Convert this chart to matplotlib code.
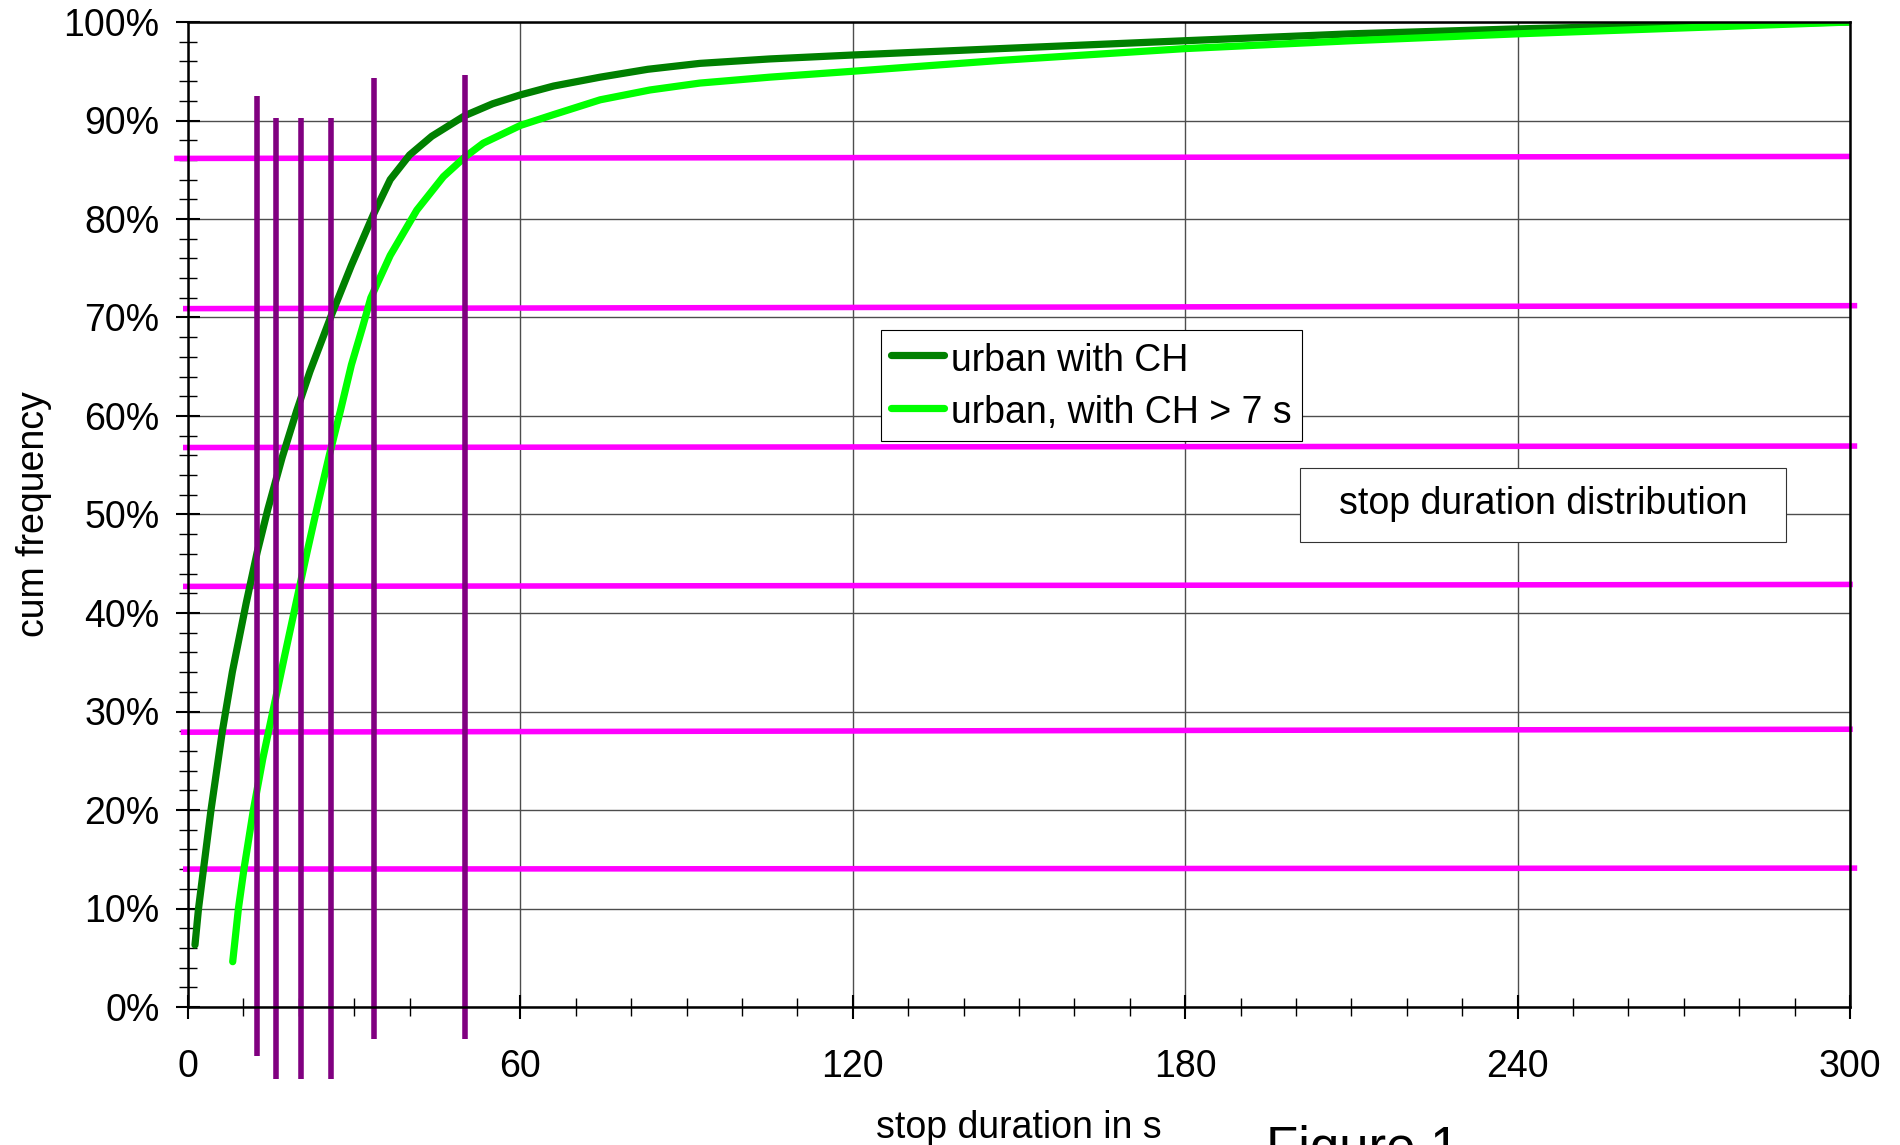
"""Cumulative stop duration distribution"""
import matplotlib
matplotlib.use("Agg")
import matplotlib.pyplot as plt
from matplotlib.ticker import MultipleLocator, PercentFormatter
from matplotlib.patches import Rectangle

# Daten: kumulierte Häufigkeit (in %) über Standdauer (in s)
urban_x = [1.26, 1.9, 2.8, 4.15, 6.2, 8.0, 10.5, 12.5, 14.4, 17.0, 19.6, 22.0, 26.0,
           29.5, 33.5, 36.5, 40.0, 44.0, 50.0, 55.0, 60.0, 66.0, 74.4, 83.0, 92.4,
           105.0, 120.0, 146.6, 180.0, 210.0, 240.0, 270.0, 300.0]
urban_y = [6.3, 10.0, 14.0, 20.0, 28.0, 34.0, 41.0, 46.2, 50.5, 55.8, 60.5, 64.5, 70.4,
           75.3, 80.5, 84.0, 86.5, 88.4, 90.5, 91.7, 92.6, 93.5, 94.4, 95.2, 95.8,
           96.25, 96.65, 97.3, 98.1, 98.8, 99.3, 99.7, 100.0]

urban7_x = [8.07, 9.1, 10.1, 11.8, 13.5, 15.5, 17.5, 19.5, 21.5, 23.5, 25.5, 27.5,
            29.5, 31.5, 33.0, 36.5, 41.3, 46.1, 50.0, 53.3, 60.0, 66.0, 74.4, 83.4,
            92.4, 105.0, 120.0, 146.6, 180.0, 210.0, 240.0, 270.0, 300.0]
urban7_y = [4.6, 10.0, 14.0, 20.0, 25.2, 30.5, 35.8, 41.0, 46.2, 51.2, 56.0, 60.5,
            65.2, 69.0, 72.0, 76.3, 80.9, 84.3, 86.3, 87.7, 89.5, 90.6, 92.1, 93.1,
            93.8, 94.4, 95.0, 96.1, 97.3, 98.1, 98.8, 99.4, 100.0]

# horizontale Hilfslinien (magenta): Start/Ende in s, Höhe links/rechts in %
hline_x0 = [-2.5, -0.9, -0.9, -0.9, -1.3, -0.9]
hline_x1 = [300.0, 301.3, 301.3, 300.5, 300.5, 301.3]
hline_y0 = [86.15, 70.9, 56.8, 42.7, 27.9, 14.0]
hline_y1 = [86.35, 71.2, 56.95, 42.9, 28.2, 14.1]

# vertikale Hilfslinien (lila): Position in s, unteres/oberes Ende in %
vline_x = [12.4, 15.8, 20.4, 25.9, 33.5, 50.0]
vline_bottom = [-5.0, -7.3, -7.3, -7.3, -3.2, -3.2]
vline_top = [92.5, 90.3, 90.3, 90.3, 94.3, 94.6]

plt.rcParams['font.family'] = ['Liberation Sans', 'DejaVu Sans']
FS = 27

fig = plt.figure(figsize=(19, 11.45), dpi=100)
ax = fig.add_axes([188 / 1900, 1 - 1007 / 1145, 1662 / 1900, 985 / 1145])

ax.grid(True, which='major', color='0.3', linewidth=1.0)
ax.set_axisbelow(True)

for x0, x1, y0, y1 in zip(hline_x0, hline_x1, hline_y0, hline_y1):
    ax.plot([x0, x1], [y0 / 100, y1 / 100], color='#FF00FF', lw=4.0,
            solid_capstyle='butt', clip_on=False, zorder=3)

ax.plot(urban_x, [y / 100 for y in urban_y], color='#008000',
        lw=5.2, solid_capstyle='round', solid_joinstyle='round',
        label='urban with CH', zorder=4)
ax.plot(urban7_x, [y / 100 for y in urban7_y], color='#00FF00',
        lw=5.2, solid_capstyle='round', solid_joinstyle='round',
        label='urban, with CH > 7 s', zorder=4)

for x, b, t in zip(vline_x, vline_bottom, vline_top):
    ax.plot([x, x], [b / 100, t / 100], color='#800080', lw=4.0,
            solid_capstyle='butt', clip_on=False, zorder=5)

ax.set_xlim(0, 300)
ax.set_ylim(0, 1)
ax.xaxis.set_major_locator(MultipleLocator(60))
ax.xaxis.set_minor_locator(MultipleLocator(10))
ax.yaxis.set_major_locator(MultipleLocator(0.1))
ax.yaxis.set_minor_locator(MultipleLocator(0.02))
ax.yaxis.set_major_formatter(PercentFormatter(1.0, decimals=0))

ax.tick_params(which='major', direction='inout', length=17, width=1.5,
               labelsize=FS, color='black')
ax.tick_params(which='minor', direction='inout', length=13, width=1.0, color='black')
ax.tick_params(axis='x', which='major', pad=22)
ax.tick_params(axis='y', which='major', pad=12)

for s in ax.spines.values():
    s.set_linewidth(1.8)
    s.set_color('black')
    s.set_zorder(6)

ax.set_xlabel('stop duration in s', fontsize=FS, labelpad=18)
ax.set_ylabel('cum frequency', fontsize=FS, labelpad=8.5)

leg = ax.legend(loc='upper left', bbox_to_anchor=(881 / 1900, 1 - 330 / 1145),
                bbox_transform=fig.transFigure, fontsize=FS, frameon=True,
                fancybox=False, framealpha=1, edgecolor='black', borderpad=0.27,
                handlelength=1.4, handleheight=1.09, handletextpad=0.2,
                labelspacing=0.36, borderaxespad=0)
leg.get_frame().set_linewidth(0.8)
leg.set_zorder(7)

# Textfeld
fig.patches.append(Rectangle((1300 / 1900, 1 - 542 / 1145), 486 / 1900, 74 / 1145,
                             transform=fig.transFigure, facecolor='white',
                             edgecolor='0.2', linewidth=0.8, zorder=7))
fig.text(1543 / 1900, 1 - 504 / 1145, 'stop duration distribution', fontsize=FS,
         ha='center', va='center', zorder=8)

fig.text(1363 / 1900, -19 / 1145, 'Figure 1', fontsize=38, ha='center', va='baseline')

fig.savefig('out.png', dpi=100)
